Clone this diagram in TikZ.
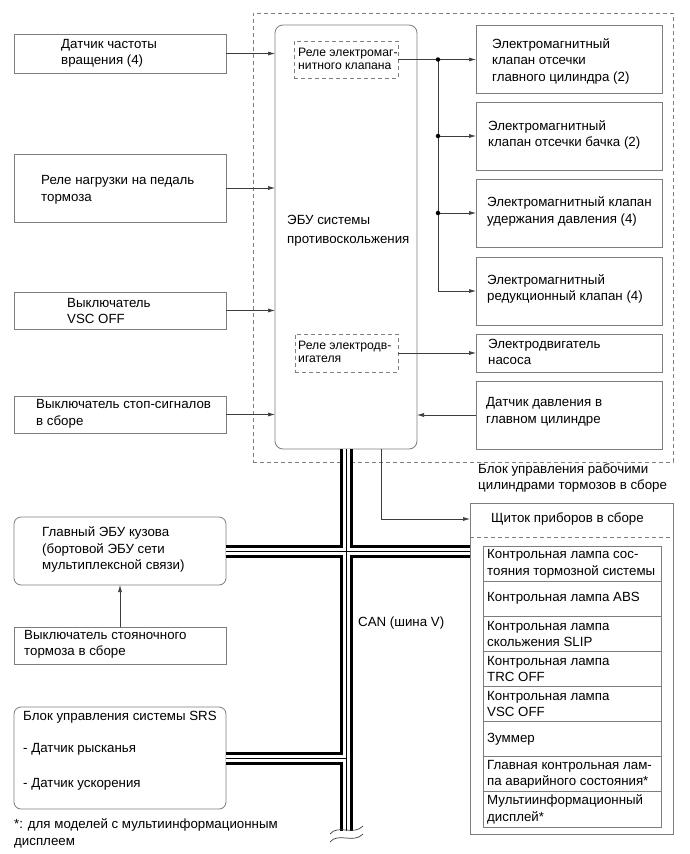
\documentclass[tikz,border=0pt]{standalone}
\usepackage{fontspec}
\setmainfont{Liberation Sans}
\usetikzlibrary{arrows.meta}
\definecolor{boxgray}{RGB}{125,125,125}
\definecolor{lngray}{RGB}{60,60,60}
\begin{document}
\begin{tikzpicture}[x=1pt,y=-1pt,
  box/.style={draw=boxgray, line width=0.8pt, inner sep=0pt, outer sep=0pt, anchor=north west},
  rbox/.style={box, rounded corners=7pt},
  dbox/.style={box, dash pattern=on 4pt off 3pt},
  lbl/.style={font=\fontsize{13.3}{16.5}\selectfont, align=left, inner sep=0pt, anchor=west},
  slbl/.style={font=\fontsize{12.2}{13.5}\selectfont, align=left, inner sep=0pt, anchor=west},
  conn/.style={draw=lngray, line width=0.7pt},
  arr/.style={conn, -{Latex[length=7pt,width=4pt]}},
  jdot/.style={circle, fill=black, inner sep=0pt, minimum size=4.5pt},
  busouter/.style={draw=black, line width=13pt},
  businner/.style={draw=white, line width=7pt},
  buscore/.style={draw=black, line width=0.8pt},
]
\useasboundingbox (0,0) rectangle (690,854);
\fill[white] (0,0) rectangle (690,854);

% outer dashed group
\node[dbox, minimum width=420pt, minimum height=449pt] (grp) at (253,13) {};
\node[lbl] (grpt) at (478,478) {Блок управления рабочими\\цилиндрами тормозов в сборе};

% ECU
\node[rbox, minimum width=142pt, minimum height=424pt, rounded corners=8pt] (ecu) at (275,25) {};
\node[lbl, font=\fontsize{13.3}{19}\selectfont] (ecut) at (287,231) {ЭБУ системы\\противоскольжения};
\node[dbox, minimum width=104pt, minimum height=37pt] (r1) at (294,41) {};
\node[slbl] (r1t) at (298,59) {Реле электромаг-\\нитного клапана};
\node[dbox, minimum width=103pt, minimum height=38pt] (r2) at (295,334) {};
\node[slbl] (r2t) at (298,352) {Реле электродв-\\игателя};

% left inputs
\node[box, minimum width=212pt, minimum height=39pt] (s1) at (14,34) {};
\node[lbl] (s1t) at (61,53.5) {Датчик частоты\\вращения (4)};
\node[box, minimum width=212pt, minimum height=68pt] (s2) at (14,154) {};
\node[lbl] (s2t) at (41,190) {Реле нагрузки на педаль\\тормоза};
\node[box, minimum width=212pt, minimum height=37pt] (s3) at (14,292) {};
\node[lbl] (s3t) at (67,311) {Выключатель\\VSC OFF};
\node[box, minimum width=212pt, minimum height=37pt] (s4) at (14,396) {};
\node[lbl] (s4t) at (36,414) {Выключатель стоп-сигналов\\в сборе};

\draw[arr] (s1.east) -- (s1.east -| ecu.west);
\draw[arr] (s2.east) -- (s2.east -| ecu.west);
\draw[arr] (s3.east) -- (s3.east -| ecu.west);
\draw[arr] (s4.east) -- (s4.east -| ecu.west);

% right outputs
\node[box, minimum width=186pt, minimum height=68pt] (va) at (476,25) {};
\node[lbl] (vat) at (492,61) {Электромагнитный\\клапан отсечки\\главного цилиндра (2)};
\node[box, minimum width=186pt, minimum height=68pt] (vb) at (476,102) {};
\node[lbl] (vbt) at (488,135) {Электромагнитный\\клапан отсечки бачка (2)};
\node[box, minimum width=186pt, minimum height=68pt] (vc) at (476,179) {};
\node[lbl] (vct) at (487,211.5) {Электромагнитный клапан\\удержания давления (4)};
\node[box, minimum width=186pt, minimum height=68pt] (vd) at (476,257) {};
\node[lbl] (vdt) at (487,289) {Электромагнитный\\редукционный клапан (4)};
\node[box, minimum width=186pt, minimum height=38pt] (pm) at (476,334) {};
\node[lbl] (pmt) at (488,352) {Электродвигатель\\насоса};
\node[box, minimum width=186pt, minimum height=68pt] (ps) at (476,381) {};
\node[lbl] (pst) at (486,412) {Датчик давления в\\главном цилиндре};

\coordinate (j1) at (438,59.5);
\coordinate (j4) at (438,291);
\draw[conn] (r1.east) -- (j1);
\draw[arr] (j1) -- (j1 -| va.west);
\draw[conn] (j1) -- (j4);
\draw[arr] (j1 |- vb.west) -- (vb.west);
\draw[arr] (j1 |- vc.west) -- (vc.west);
\draw[arr] (j4) -- (j4 -| vd.west);
\node[jdot] (d1) at (j1) {};
\node[jdot] (d2) at (j1 |- vb.west) {};
\node[jdot] (d3) at (j1 |- vc.west) {};
\draw[arr] (r2.east) -- (r2.east -| pm.west);
\draw[arr] (ps.west) -- (ps.west -| ecu.east);

% instrument cluster
\node[box, minimum width=203pt, minimum height=331pt] (cl) at (470,503) {};
\node[lbl] (clt) at (491,519) {Щиток приборов в сборе};
\coordinate (sepl) at (470,537);
\coordinate (sepr) at (673,537);
\draw[boxgray, line width=0.8pt, dash pattern=on 4pt off 3pt] (sepl) -- (sepr);

\node[box, minimum width=178pt, minimum height=35.125pt] (k1) at (483,546) {};
\node[box, minimum width=178pt, minimum height=35.125pt] (k2) at (k1.south west) {};
\node[box, minimum width=178pt, minimum height=35.125pt] (k3) at (k2.south west) {};
\node[box, minimum width=178pt, minimum height=35.125pt] (k4) at (k3.south west) {};
\node[box, minimum width=178pt, minimum height=35.125pt] (k5) at (k4.south west) {};
\node[box, minimum width=178pt, minimum height=35.125pt] (k6) at (k5.south west) {};
\node[box, minimum width=178pt, minimum height=35.125pt] (k7) at (k6.south west) {};
\node[box, minimum width=178pt, minimum height=35.125pt] (k8) at (k7.south west) {};
\node[lbl] (k1t) at ([xshift=4pt]k1.west) {Контрольная лампа сос-\\тояния тормозной системы};
\node[lbl] (k2t) at ([xshift=4pt]k2.west) {Контрольная лампа ABS};
\node[lbl] (k3t) at ([xshift=4pt]k3.west) {Контрольная лампа\\скольжения SLIP};
\node[lbl] (k4t) at ([xshift=4pt]k4.west) {Контрольная лампа\\TRC OFF};
\node[lbl] (k5t) at ([xshift=4pt]k5.west) {Контрольная лампа\\VSC OFF};
\node[lbl] (k6t) at ([xshift=4pt]k6.west) {Зуммер};
\node[lbl] (k7t) at ([xshift=4pt]k7.west) {Главная контрольная лам-\\па аварийного состояния*};
\node[lbl] (k8t) at ([xshift=4pt]k8.west) {Мультиинформационный\\дисплей*};

\coordinate (eo) at (381,449);
\draw[arr] (eo) |- (clt.west -| cl.west);

% main body ECU, parking brake, SRS
\node[rbox, minimum width=212pt, minimum height=68pt] (mb) at (14,517) {};
\node[lbl] (mbt) at (42,549.5) {Главный ЭБУ кузова\\(бортовой ЭБУ сети\\мультиплексной связи)};
\node[box, minimum width=212pt, minimum height=37pt] (pk) at (14,627) {};
\node[lbl] (pkt) at (24,644.5) {Выключатель стояночного\\тормоза в сборе};
\draw[arr] (pk.north) -- (mb.south);

\node[rbox, minimum width=212pt, minimum height=102pt] (srs) at (14,707) {};
\node[lbl] (srs1) at (23,717) {Блок управления системы SRS};
\node[lbl] (srs2) at (23,749) {- Датчик рысканья};
\node[lbl] (srs3) at (23,784) {- Датчик ускорения};

% CAN bus
\coordinate (cb) at (346,831);
\foreach \st in {busouter,businner,buscore}{
  \draw[\st] (ecu.south) -- (cb);
  \draw[\st] (mb.east) -- (mb.east -| cl.west);
  \draw[\st] (srs.east) -- (srs.east -| cb);
}
\node[lbl] (can) at (358,623) {CAN (шина V)};
\draw[lngray, line width=0.7pt] (330,834) .. controls (338,824) and (354,836) .. (363,826);
\draw[lngray, line width=0.7pt] (330,842) .. controls (338,832) and (354,844) .. (363,834);

\node[lbl] (foot) at (14,833.5) {*: для моделей с мультиинформационным\\дисплеем};
\end{tikzpicture}
\end{document}
